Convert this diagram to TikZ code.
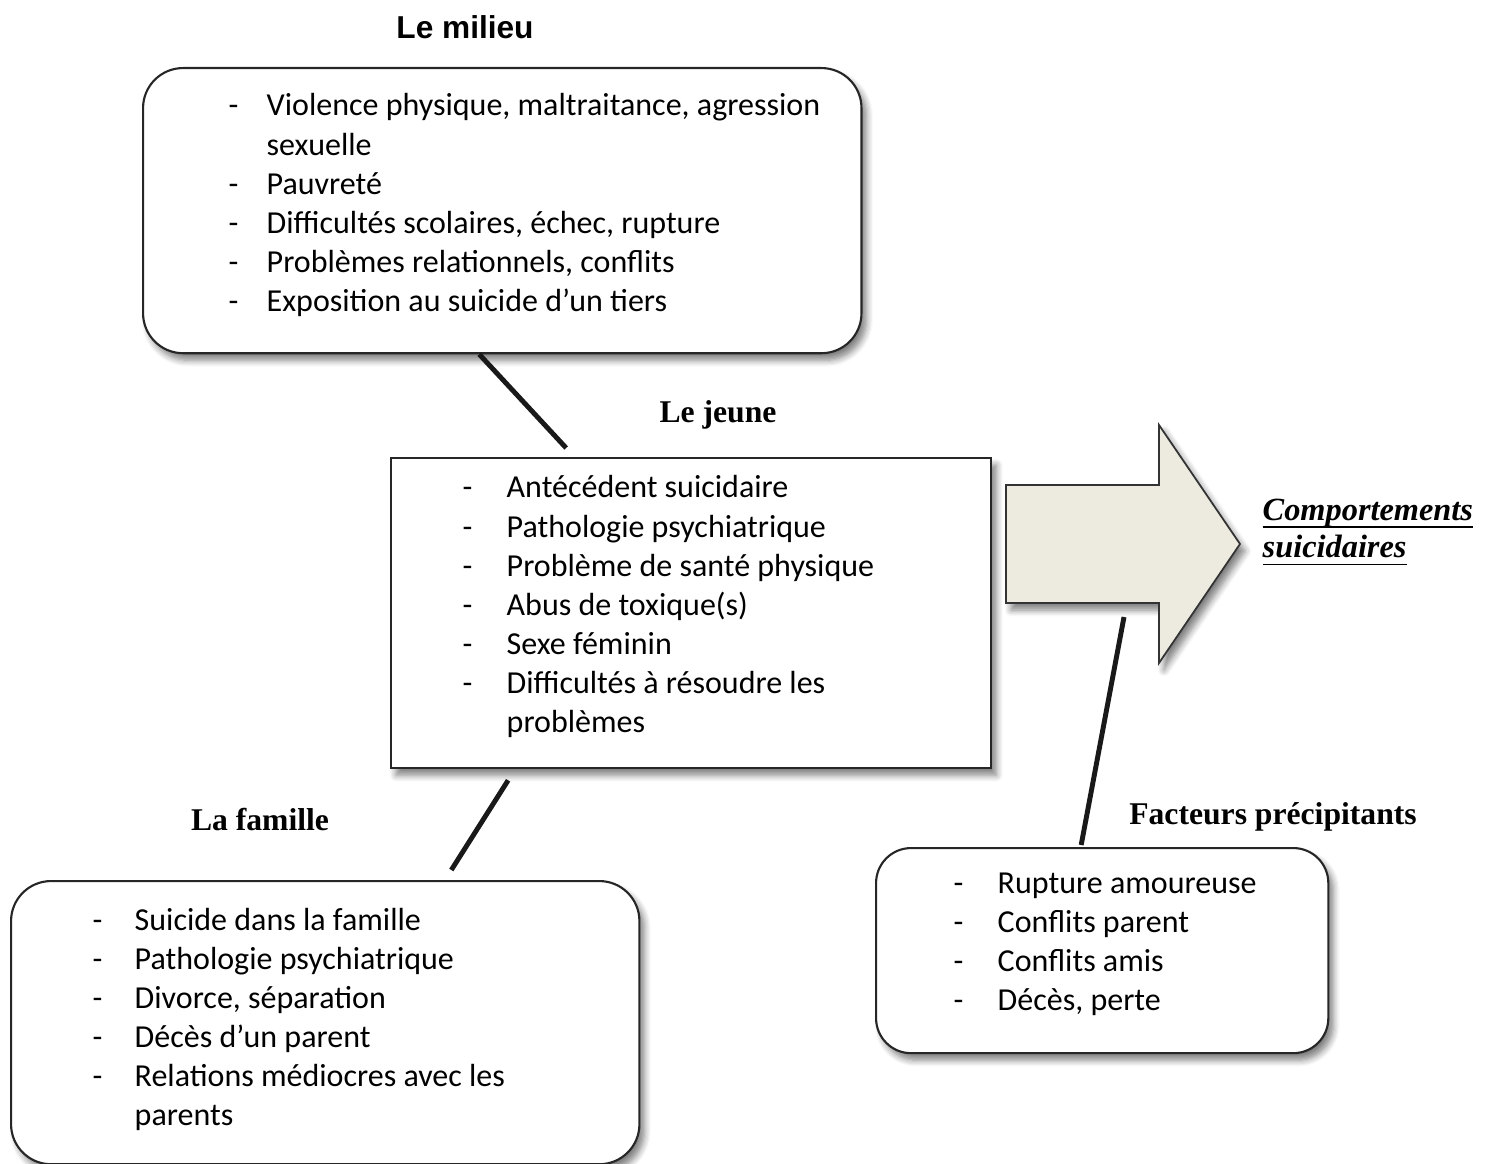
\documentclass[tikz,border=0pt]{standalone}
\usepackage{fontspec}
\setmainfont{Liberation Serif}
\newfontfamily\listfont{Carlito}
\newfontfamily\headsans{Liberation Sans}
\usetikzlibrary{shadows.blur}

\newcommand\ulword[1]{\setbox0\hbox{#1}\rlap{\rule[-2.3pt]{\wd0}{0.5pt}}\box0}

\tikzset{
  box/.style={draw=black!85, line width=0.6pt, fill=white, anchor=north west, inner sep=0pt,
    blur shadow={shadow xshift=0.05cm, shadow yshift=-0.07cm, shadow blur steps=6, shadow opacity=50}},
  roundbox/.style={box, rounded corners=0.4cm},
  list/.style={anchor=base west, inner sep=0pt, font=\listfont\fontsize{9.1}{11.1}\selectfont},
  head/.style={inner sep=0pt, font=\bfseries\fontsize{9}{11}\selectfont},
  link/.style={line width=1.4pt, black!90},
}

\begin{document}
\begin{tikzpicture}[x=0.01cm, y=-0.01cm]
  \useasboundingbox (0,0) rectangle (1485,1164);

  % titles
  \node[head, font=\headsans\bfseries\fontsize{9}{11}\selectfont] (milieuTitle) at (465,27) {Le milieu};
  \node[head] (jeuneTitle) at (718,415) {Le jeune};
  \node[head] (familleTitle) at (260,820) {La famille};
  \node[head] (facteursTitle) at (1273,817) {Facteurs pr\'ecipitants};

  % boxes
  \node[roundbox, minimum width=7.18cm, minimum height=2.85cm] (milieu) at (142,67) {};
  \node[box, minimum width=6.00cm, minimum height=3.10cm] (jeune) at (390,457) {};
  \node[roundbox, minimum width=6.28cm, minimum height=2.83cm] (famille) at (10,880) {};
  \node[roundbox, rounded corners=0.35cm, minimum width=4.52cm, minimum height=2.05cm] (facteurs) at (875,847) {};

  % lists
  \node[list] (milieuList) at (228,116) {\begin{tabular}[t]{@{}p{0.38cm}@{}l@{}}
    - & Violence physique, maltraitance, agression\\
      & sexuelle\\
    - & Pauvret\'e\\
    - & Difficult\'es scolaires, \'echec, rupture\\
    - & Probl\`emes relationnels, conflits\\
    - & Exposition au suicide d\textquoteright un tiers
  \end{tabular}};
  \node[list] (jeuneList) at (462,498) {\begin{tabular}[t]{@{}p{0.44cm}@{}l@{}}
    - & Ant\'ec\'edent suicidaire\\
    - & Pathologie psychiatrique\\
    - & Probl\`eme de sant\'e physique\\
    - & Abus de toxique(s)\\
    - & Sexe f\'eminin\\
    - & Difficult\'es \`a r\'esoudre les\\
      & probl\`emes
  \end{tabular}};
  \node[list] (familleList) at (92,930) {\begin{tabular}[t]{@{}p{0.42cm}@{}l@{}}
    - & Suicide dans la famille\\
    - & Pathologie psychiatrique\\
    - & Divorce, s\'eparation\\
    - & D\'ec\`es d\textquoteright un parent\\
    - & Relations m\'ediocres avec les\\
      & parents
  \end{tabular}};
  \node[list] (facteursList) at (953,893) {\begin{tabular}[t]{@{}p{0.44cm}@{}l@{}}
    - & Rupture amoureuse\\
    - & Conflits parent\\
    - & Conflits amis\\
    - & D\'ec\`es, perte
  \end{tabular}};

  % big arrow
  \draw[draw=black!80, line width=0.5pt, fill={rgb,255:red,237;green,235;blue,224},
    blur shadow={shadow xshift=0.05cm, shadow yshift=-0.07cm, shadow blur steps=6, shadow opacity=50}]
    (1006,485) -- (1159,485) -- (1159,425) -- (1240,544) -- (1159,663) -- (1159,603) -- (1006,603) -- cycle;
  \coordinate (arrowFoot) at (1124,617);
  \node[anchor=west, inner sep=0pt, align=left, font=\bfseries\itshape\fontsize{9.2}{10.6}\selectfont]
    (result) at (1262,532) {\ulword{Comportements}\\\ulword{suicidaires}};

  % links
  \draw[link] ([xshift=-0.23cm]milieu.south) -- ([xshift=-1.25cm, yshift=0.09cm]jeune.north);
  \draw[link] ([xshift=-1.83cm, yshift=-0.11cm]jeune.south) -- ([xshift=1.26cm, yshift=0.10cm]famille.north);
  \draw[link] (arrowFoot) -- ([xshift=-0.21cm, yshift=0.02cm]facteurs.north);

\end{tikzpicture}
\end{document}
